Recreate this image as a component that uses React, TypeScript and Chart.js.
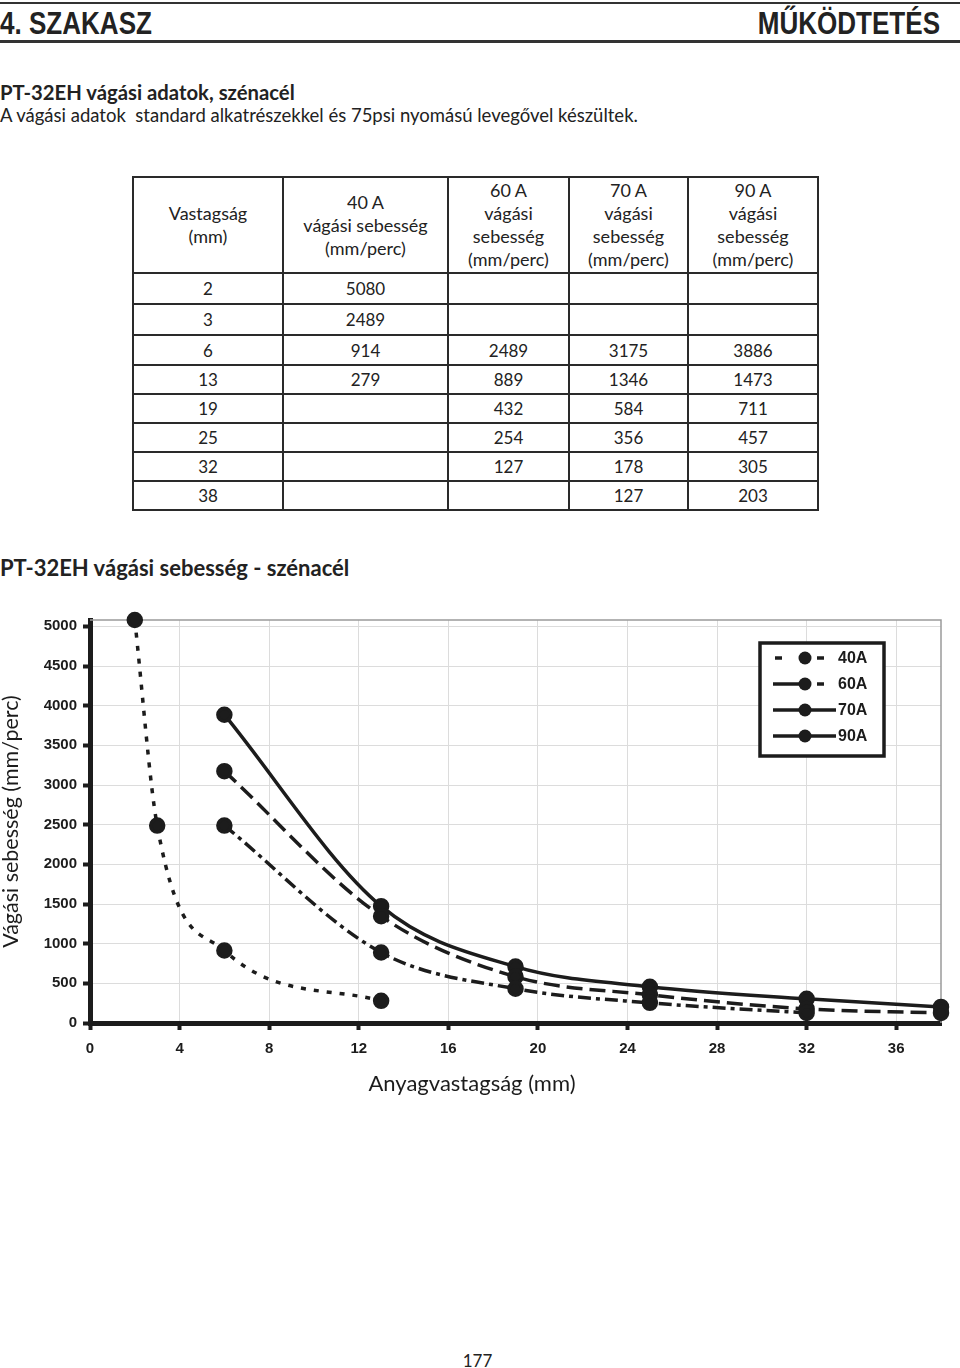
import React, { useEffect, useRef } from "react";
import { Chart, registerables } from "chart.js";
Chart.register(...registerables);

// ---- data ----
const thickness = [2, 3, 6, 13, 19, 25, 32, 38];
const speed40 = [5080, 2489, 914, 279, null, null, null, null];
const speed60 = [null, null, 2489, 889, 432, 254, 127, null];
const speed70 = [null, null, 3175, 1346, 584, 356, 178, 127];
const speed90 = [null, null, 3886, 1473, 711, 457, 305, 203];
const seriesLabels = ["40A", "60A", "70A", "90A"];
const tableHead = [
  ["Vastagság", "(mm)"],
  ["40 A", "vágási sebesség", "(mm/perc)"],
  ["60 A", "vágási", "sebesség", "(mm/perc)"],
  ["70 A", "vágási", "sebesség", "(mm/perc)"],
  ["90 A", "vágási", "sebesség", "(mm/perc)"],
];
const xTicks = [0, 4, 8, 12, 16, 20, 24, 28, 32, 36];
const yTicks = [0, 500, 1000, 1500, 2000, 2500, 3000, 3500, 4000, 4500, 5000];
const xMax = 38;
const yMax = 5080;

const INK = "#1c1c1c";
const dashes: number[][] = [[5, 8], [13, 5, 4, 5], [16, 7], []];
// legend line segments [from, to] per entry
const legendSegs: number[][][] = [
  [[775, 782], [817, 824]],
  [[773, 800], [817, 824]],
  [[773, 836]],
  [[773, 836]],
];
const seriesData = [speed40, speed60, speed70, speed90];

const legendPlugin = {
  id: "frameAndLegend",
  beforeDatasetsDraw(chart: any) {
    const ctx = chart.ctx;
    const { left, top, right, bottom } = chart.chartArea;
    ctx.save();
    ctx.strokeStyle = "#9a9a9a";
    ctx.lineWidth = 1.5;
    ctx.beginPath();
    ctx.moveTo(left, top);
    ctx.lineTo(right, top);
    ctx.lineTo(right, bottom);
    ctx.stroke();
    ctx.restore();
  },
  afterDraw(chart: any) {
    const ctx = chart.ctx;
    ctx.save();
    // x axis title (offset like the original, not centred on the plot)
    ctx.fillStyle = INK;
    ctx.font = "22px Lato, sans-serif";
    ctx.textAlign = "center";
    ctx.textBaseline = "middle";
    ctx.fillText("Anyagvastagság (mm)", 472, 489);

    const bx = 760, by = 48, bw = 124, bh = 113;
    ctx.fillStyle = "#fff";
    ctx.fillRect(bx, by, bw, bh);
    ctx.lineWidth = 3.5;
    ctx.strokeStyle = INK;
    ctx.strokeRect(bx, by, bw, bh);
    seriesLabels.forEach((lab, i) => {
      const y = by + 15 + i * 26;
      ctx.strokeStyle = INK;
      ctx.lineWidth = 3.5;
      legendSegs[i].forEach(([a, b]) => {
        ctx.beginPath();
        ctx.moveTo(a, y);
        ctx.lineTo(b, y);
        ctx.stroke();
      });
      ctx.fillStyle = INK;
      ctx.beginPath();
      ctx.arc(805, y, 6.5, 0, Math.PI * 2);
      ctx.fill();
      ctx.font = "bold 16px 'Liberation Sans', Arial, sans-serif";
      ctx.textBaseline = "middle";
      ctx.textAlign = "left";
      ctx.fillText(lab, 838, y + 1);
    });
    ctx.restore();
  },
};

function SpeedChart() {
  const ref = useRef<HTMLCanvasElement | null>(null);
  useEffect(() => {
    if (!ref.current) return;
    const datasets = seriesData.map((arr, i) => ({
      label: seriesLabels[i],
      data: thickness
        .map((t, k) => (arr[k] == null ? null : { x: t, y: arr[k] as number }))
        .filter((p) => p !== null),
      borderColor: INK,
      backgroundColor: INK,
      pointBackgroundColor: INK,
      pointBorderColor: INK,
      borderWidth: 3.5,
      borderDash: dashes[i],
      pointRadius: 6.5,
      cubicInterpolationMode: "monotone" as const,
      clip: false as any,
    }));
    const tickFont = { family: "'Liberation Sans', Arial, sans-serif", weight: "bold", size: 15 };
    const chart = new Chart(ref.current, {
      type: "line",
      data: { datasets },
      plugins: [legendPlugin],
      options: {
        animation: false,
        responsive: false,
        maintainAspectRatio: false,
        layout: { padding: { left: 0, right: 19, top: 25, bottom: 0 } },
        plugins: { legend: { display: false }, tooltip: { enabled: false } },
        scales: {
          x: {
            type: "linear",
            min: 0,
            max: xMax,
            afterBuildTicks: (s: any) => {
              s.ticks = xTicks.map((v) => ({ value: v }));
            },
            ticks: {
              color: INK,
              padding: 10,
              font: tickFont,
              callback: (v: any) => String(v),
            },
            grid: { color: "#dcdcdc", lineWidth: 1, tickColor: INK, tickWidth: 4, tickLength: 7 },
            border: { color: INK, width: 5 },
            title: { display: false },
            afterFit: (s: any) => {
              s.height = 82;
            },
          },
          y: {
            type: "linear",
            min: 0,
            max: yMax,
            afterBuildTicks: (s: any) => {
              s.ticks = yTicks.map((v) => ({ value: v }));
            },
            ticks: {
              color: INK,
              padding: 6,
              font: tickFont,
              callback: (v: any) => String(v),
            },
            grid: { color: "#dcdcdc", lineWidth: 1, tickColor: INK, tickWidth: 4, tickLength: 7 },
            border: { color: INK, width: 5 },
            title: {
              display: true,
              text: "Vágási sebesség (mm/perc)",
              color: INK,
              font: { family: "Lato, sans-serif", size: 21.5, lineHeight: 1 },
              padding: { top: 0, bottom: 0 },
            },
            afterFit: (s: any) => {
              s.width = 90;
            },
          },
        },
      } as any,
    });
    return () => chart.destroy();
  }, []);
  return (
    <canvas
      ref={ref}
      width={960}
      height={510}
      style={{ position: "absolute", left: 0, top: 595, width: 960, height: 510 }}
    />
  );
}

const colW = [150, 165, 121, 119, 130];
const rowH = [31, 31, 30, 29, 29, 29, 29, 29];

export default function App() {
  const cell: React.CSSProperties = {
    border: "2px solid #2a2a2a",
    textAlign: "center",
    padding: 0,
    fontSize: 17,
    color: "#222",
  };
  const headStyle: React.CSSProperties = {
    position: "absolute",
    top: 6,
    fontFamily: "'Liberation Sans', Arial, sans-serif",
    fontWeight: "bold",
    fontSize: 31,
    color: "#222",
    whiteSpace: "nowrap",
  };
  return (
    <div
      style={{
        position: "absolute",
        left: 0,
        top: 0,
        width: 960,
        height: 1368,
        background: "#fff",
        fontFamily: "Lato, sans-serif",
        color: "#222",
        overflow: "hidden",
      }}
    >
      <div style={{ position: "absolute", left: 0, top: 2, width: 960, height: 2, background: "#333" }} />
      <div style={{ ...headStyle, left: 0, transform: "scaleX(0.84)", transformOrigin: "left center" }}>
        4. SZAKASZ
      </div>
      <div style={{ ...headStyle, right: 20, transform: "scaleX(0.84)", transformOrigin: "right center" }}>
        MŰKÖDTETÉS
      </div>
      <div style={{ position: "absolute", left: 0, top: 40, width: 960, height: 2.5, background: "#333" }} />

      <div style={{ position: "absolute", left: 0, top: 80, fontWeight: "bold", fontSize: 20.3 }}>
        PT-32EH vágási adatok, szénacél
      </div>
      <div style={{ position: "absolute", left: 0, top: 104, fontSize: 18.5, whiteSpace: "pre" }}>
        {"A vágási adatok  standard alkatrészekkel és 75psi nyomású levegővel készültek."}
      </div>

      <table
        style={{
          position: "absolute",
          left: 132,
          top: 176,
          borderCollapse: "collapse",
          tableLayout: "fixed",
          width: colW.reduce((a, b) => a + b, 0),
        }}
      >
        <colgroup>
          {colW.map((w, i) => (
            <col key={i} style={{ width: w }} />
          ))}
        </colgroup>
        <thead>
          <tr style={{ height: 96 }}>
            {tableHead.map((lines, i) => (
              <th key={i} style={{ ...cell, fontWeight: "normal", fontSize: 18, lineHeight: "23px" }}>
                {lines.map((l, k) => (
                  <div key={k}>{l}</div>
                ))}
              </th>
            ))}
          </tr>
        </thead>
        <tbody>
          {thickness.map((t, r) => (
            <tr key={r} style={{ height: rowH[r] }}>
              <td style={cell}>{t}</td>
              {seriesData.map((arr, c) => (
                <td key={c} style={cell}>
                  {arr[r] == null ? "" : arr[r]}
                </td>
              ))}
            </tr>
          ))}
        </tbody>
      </table>

      <div style={{ position: "absolute", left: 0, top: 554, fontWeight: "bold", fontSize: 22 }}>
        PT-32EH vágási sebesség - szénacél
      </div>

      <SpeedChart />

      <div style={{ position: "absolute", left: 0, width: 955, top: 1350, textAlign: "center", fontSize: 17 }}>
        177
      </div>
    </div>
  );
}
